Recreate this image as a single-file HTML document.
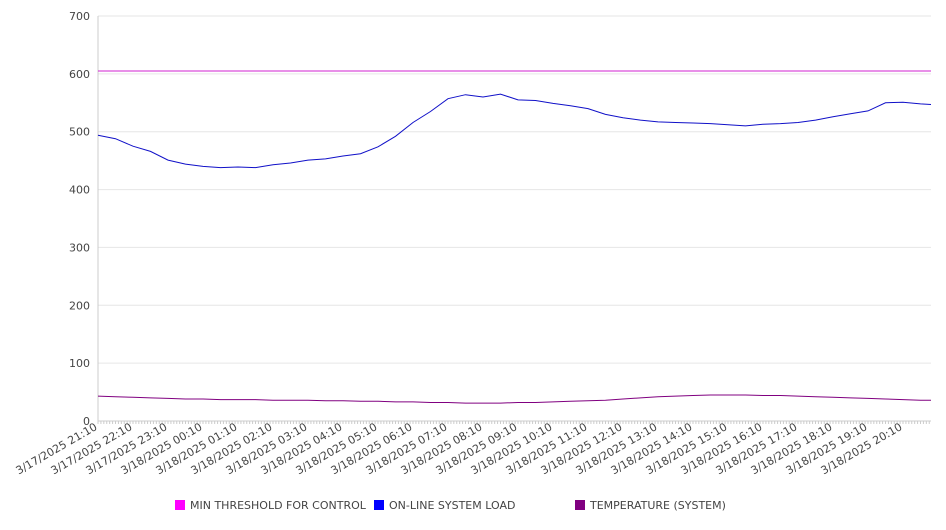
<!DOCTYPE html>
<html><head><meta charset="utf-8"><style>
body{margin:0;background:#fff;font-family:"DejaVu Sans","Liberation Sans",sans-serif;}
svg text{font-family:"DejaVu Sans","Liberation Sans",sans-serif;font-size:11px;fill:#444;}
</style></head><body>
<svg id="chart" width="946" height="526" xmlns="http://www.w3.org/2000/svg">
<g id="grid"></g>
<g id="axes"></g>
<g id="series"></g>
<g id="legend"></g>
</svg>
<script>
const xLabels=["3/17/2025 21:10","3/17/2025 22:10","3/17/2025 23:10","3/18/2025 00:10","3/18/2025 01:10","3/18/2025 02:10","3/18/2025 03:10","3/18/2025 04:10","3/18/2025 05:10","3/18/2025 06:10","3/18/2025 07:10","3/18/2025 08:10","3/18/2025 09:10","3/18/2025 10:10","3/18/2025 11:10","3/18/2025 12:10","3/18/2025 13:10","3/18/2025 14:10","3/18/2025 15:10","3/18/2025 16:10","3/18/2025 17:10","3/18/2025 18:10","3/18/2025 19:10","3/18/2025 20:10"];
const yTicks=[0,100,200,300,400,500,600,700];
const hours=[0,0.5,1,1.5,2,2.5,3,3.5,4,4.5,5,5.5,6,6.5,7,7.5,8,8.5,9,9.5,10,10.5,11,11.5,12,12.5,13,13.5,14,14.5,15,15.5,16,16.5,17,17.5,18,18.5,19,19.5,20,20.5,21,21.5,22,22.5,23,23.5,23.8];
const loadValues=[494,488,475,466,451,444,440,438,439,438,443,446,451,453,458,462,474,492,516,535,557,564,560,565,555,554,549,545,540,530,524,520,517,516,515,514,512,510,513,514,516,520,526,531,536,550,551,548,547];
const tempValues=[43,42,41,40,39,38,38,37,37,37,36,36,36,35,35,34,34,33,33,32,32,31,31,31,32,32,33,34,35,36,38,40,42,43,44,45,45,45,44,44,43,42,41,40,39,38,37,36,36];
const thresholdValue=605;
const X0=98,X1=931,Y0=421,Y1=16,HMAX=23.8;
const sx=h=>X0+(X1-X0)*h/HMAX, sy=v=>Y0-(Y0-Y1)*v/700;
const NS="http://www.w3.org/2000/svg";
function mk(tag,parent,attrs){const e=document.createElementNS(NS,tag);for(const k in attrs)e.setAttribute(k,attrs[k]);parent.appendChild(e);return e;}
const grid=document.getElementById('grid'),axes=document.getElementById('axes'),series=document.getElementById('series'),legend=document.getElementById('legend');
yTicks.forEach(v=>{
 const l=mk('line',grid,{x1:X0,x2:X1,y1:sy(v),y2:sy(v),stroke:'#e6e6e6'});
 
 
 const t=mk('text',axes,{x:90,y:sy(v)+4,'text-anchor':'end'});t.textContent=v;
 
 
});
const ya=mk('line',axes,{x1:X0,x2:X0,y1:Y1,y2:Y0,stroke:'#ccc'});


const xa=mk('line',axes,{x1:X0,x2:X1,y1:Y0,y2:Y0,stroke:'#ccc'});


for(let m=0;m<=HMAX*60;m+=5){mk('line',axes,{x1:sx(m/60),x2:sx(m/60),y1:Y0,y2:Y0+3,stroke:'#ccc'});}
xLabels.forEach((s,i)=>{
 const x=sx(i),y=Y0+8;
 const t=mk('text',axes,{x:x,y:y,'text-anchor':'end',transform:`rotate(-30 ${x} ${y})`});t.textContent=s;
 
 
});
function line(vals,color,name){
 const d=vals.map((v,i)=>(i?'L':'M')+sx(hours[i]).toFixed(1)+','+sy(v).toFixed(1)).join('');
 const p=mk('path',series,{d:d,fill:'none',stroke:color,'stroke-width':1});
 
 
}
const th=mk('line',series,{x1:X0,x2:X1,y1:sy(thresholdValue),y2:sy(thresholdValue),stroke:'#d020d0','stroke-width':1});


line(loadValues,'#1010c8','online-system-load-line');
line(tempValues,'#800080','temperature-line');
[["MIN THRESHOLD FOR CONTROL","#ff00ff",175],["ON-LINE SYSTEM LOAD","#0000ff",374],["TEMPERATURE (SYSTEM)","#800080",575]].forEach(([n,c,x])=>{
 const g=mk('g',legend,{});
 
 
 mk('rect',g,{x:x,y:500,width:10,height:10,fill:c});
 const t=mk('text',g,{x:x+15,y:509});t.textContent=n;
});
</script>
</body></html>
